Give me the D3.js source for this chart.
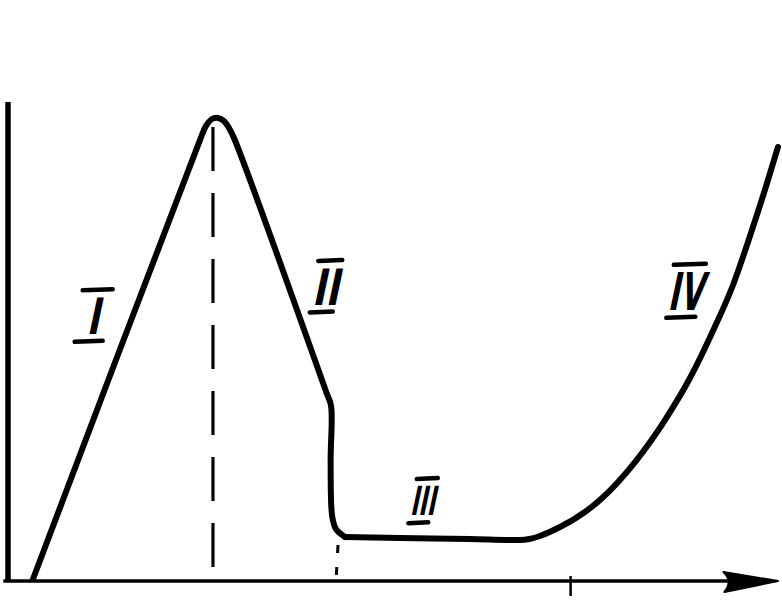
<!DOCTYPE html>
<html>
<head>
<meta charset="utf-8">
<script src="https://cdn.jsdelivr.net/npm/d3@7"></script>
<style>
  html, body { margin: 0; padding: 0; background: #fff; }
  svg { display: block; }
</style>
</head>
<body>
<svg id="chart" width="782" height="604"></svg>
<script>
// ---- data (abstract units: x 0..100, y 0..100) ----
// stages I & II (rise, peak, fall, sharp drop)
const riseFallX = [3.25, 24.94, 25.71, 26.49, 27.27, 28.05, 28.70, 29.35, 41.30, 41.95, 41.90, 42.10, 42.60, 43.77];
const riseFallY = [0.42, 91.90, 94.80, 96.25, 96.46, 95.83, 94.38, 92.29, 39.50, 36.50, 25.00, 13.50, 10.80, 9.17];
// stages III & IV (plateau, then rising branch)
const plateauRiseX = [43.77, 50.91, 60.00, 66.49, 71.69, 76.88, 81.43, 85.32, 88.57, 91.43, 94.16, 96.62, 98.70, 100.0];
const plateauRiseY = [9.17, 8.96, 8.75, 8.54, 11.25, 16.88, 24.79, 33.54, 42.29, 51.67, 61.67, 73.13, 83.54, 90.42];
const peakX = 26.62;          // dashed line under the maximum
const peakTopY = 94.6;
const breakX = 42.86;         // short dashed mark under the drop
const breakTopY = 7.5;
const tickValuesX = [73.0];   // tick mark on the horizontal axis
const stageLabels = ["I", "II", "III", "IV"];
const stageLabelX = [11.0, 41.2, 53.8, 87.9];
const stageLabelY = [51.5, 57.6, 13.7, 56.5];

// ---- layout ----
const svg = d3.select("#chart");
const x = d3.scaleLinear().domain([0, 100]).range([8, 778]);
const y = d3.scaleLinear().domain([0, 100]).range([581, 101]);

const ink = "#000";

// vertical axis
svg.append("line")
  .attr("x1", x(0)).attr("x2", x(0))
  .attr("y1", y(0) + 1).attr("y2", y(99.8))
  .attr("stroke", ink).attr("stroke-width", 5.5);

// horizontal axis line
svg.append("line")
  .attr("x1", x(-0.6)).attr("x2", x(96))
  .attr("y1", y(0)).attr("y2", y(0))
  .attr("stroke", ink).attr("stroke-width", 3.5);

// arrow head
const tipX = x(100), baseX = x(93.3), ay = y(0);
svg.append("path")
  .attr("d", `M${tipX},${ay} L${baseX - 3},${ay - 9} Q${baseX + 7},${ay} ${baseX - 2},${ay + 11} Z`)
  .attr("fill", ink).attr("stroke", ink).attr("stroke-width", 2).attr("stroke-linejoin", "round");

// ticks on the x axis via d3 axis
const xAxis = d3.axisBottom(x).tickValues(tickValuesX).tickFormat("").tickSize(20).tickSizeOuter(0);
const gx = svg.append("g").attr("transform", `translate(0,${y(0) - 5})`).call(xAxis);
gx.select(".domain").remove();
gx.selectAll(".tick line").attr("stroke", ink).attr("stroke-width", 2.5);

// dashed line under peak
svg.append("line")
  .attr("x1", x(peakX)).attr("x2", x(peakX))
  .attr("y1", y(peakTopY)).attr("y2", y(0) + 5)
  .attr("stroke", ink).attr("stroke-width", 3.2)
  .attr("stroke-dasharray", "44,22");

// short dashed mark under the drop
svg.append("line")
  .attr("x1", x(breakX)).attr("x2", x(breakX) - 2)
  .attr("y1", y(breakTopY)).attr("y2", y(0))
  .attr("stroke", ink).attr("stroke-width", 3)
  .attr("stroke-dasharray", "8,14");

// main curve (two pieces, joined)
const ptsA = riseFallX.map((d, i) => [d, riseFallY[i]]);
const ptsB = plateauRiseX.map((d, i) => [d, plateauRiseY[i]]);
const lineA = d3.line().x(d => x(d[0])).y(d => y(d[1])).curve(d3.curveCatmullRom.alpha(0.5));
const lineB = d3.line().x(d => x(d[0])).y(d => y(d[1])).curve(d3.curveMonotoneX);
[[ptsA, lineA], [ptsB, lineB]].forEach(([p, l]) => {
  svg.append("path")
    .datum(p)
    .attr("d", l)
    .attr("fill", "none")
    .attr("stroke", ink)
    .attr("stroke-width", 6)
    .attr("stroke-linejoin", "round")
    .attr("stroke-linecap", "round");
});

// stage labels (roman numerals with over/under bars)
const labelSize = [50, 50, 40, 52];
const labelLen = [13, 27, 25, 35];
const overW = [30, 24, 21, 32];
const underW = [28, 23, 20, 29];
stageLabels.forEach((t, i) => {
  const cx = x(stageLabelX[i]), by = y(stageLabelY[i]);
  const g = svg.append("g");
  const fs = labelSize[i];
  g.append("text")
    .attr("x", 0).attr("y", 0)
    .attr("transform", `translate(${cx},${by}) skewX(-12)`)
    .attr("text-anchor", "middle")
    .attr("font-family", "DejaVu Sans, sans-serif")
    .attr("font-weight", "bold")
    .attr("font-size", fs)
    .attr("textLength", labelLen[i])
    .attr("lengthAdjust", "spacingAndGlyphs")
    .attr("fill", ink)
    .text(t);
  const capH = fs * 0.73;
  g.append("line")
    .attr("x1", cx - overW[i] / 2 + 5).attr("x2", cx + overW[i] / 2 + 5)
    .attr("y1", by - capH - 7).attr("y2", by - capH - 8)
    .attr("stroke", ink).attr("stroke-width", 4.5).attr("stroke-linecap", "round");
  g.append("line")
    .attr("x1", cx - underW[i] / 2 - 4).attr("x2", cx + underW[i] / 2 - 4)
    .attr("y1", by + 8).attr("y2", by + 7)
    .attr("stroke", ink).attr("stroke-width", 4.5).attr("stroke-linecap", "round");
});
</script>
</body>
</html>
